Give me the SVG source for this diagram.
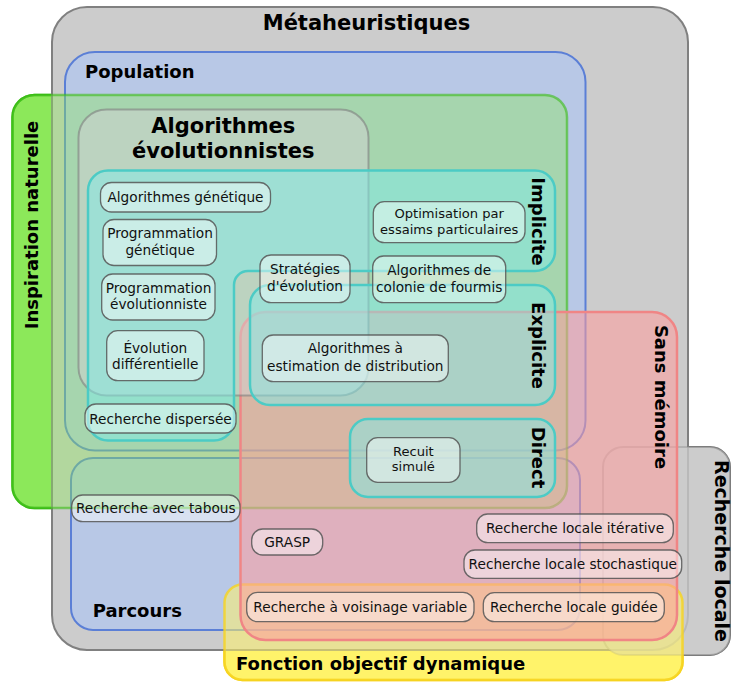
<svg xmlns="http://www.w3.org/2000/svg" width="732" height="682" viewBox="0 0 732 682">
<style>
.t{font-family:"DejaVu Sans","Liberation Sans",sans-serif;font-size:13.7px;fill:#111;text-anchor:middle}
.s{font-size:13.1px}
.b{font-family:"DejaVu Sans","Liberation Sans",sans-serif;font-weight:bold;font-size:18px;fill:#000}
.h{font-family:"DejaVu Sans","Liberation Sans",sans-serif;font-weight:bold;font-size:21px;fill:#000;text-anchor:middle}
.nd{fill:#fff;fill-opacity:0.45;stroke:#555;stroke-opacity:0.85;stroke-width:1.3}
.pop{fill:#a4c4ff;fill-opacity:0.5;stroke:#5b7fd6;stroke-width:2}
.teal{fill:#80ece8;fill-opacity:0.5;stroke:#4ccbc5;stroke-width:2.5}
</style>
<rect width="732" height="682" fill="#ffffff"/>
<g id="tabs">
<rect x="603" y="447" width="127" height="208" rx="20" fill="#cccccc" stroke="#7a7a7a" stroke-width="2"/>
<rect x="224.5" y="584.5" width="458" height="95.5" rx="18" fill="#fff36a" stroke="#f6d31f" stroke-width="2.5"/>
<rect x="12.5" y="95" width="554.5" height="413" rx="22" fill="#8ce85a" stroke="#3bbd15" stroke-width="2.5"/>
</g>
<g id="metaheuristiques">
<rect x="52" y="7" width="636" height="643" rx="35" fill="#cccccc" stroke="#808080" stroke-width="2"/>
</g>
<g id="recherche-locale">
<rect x="603" y="447" width="127" height="208" rx="20" fill="#cccccc" fill-opacity="0.75" stroke="#808080" stroke-opacity="0.35" stroke-width="2"/>
</g>
<g id="population">
<rect class="pop" x="65" y="52" width="520.5" height="398.5" rx="30"/>
</g>
<g id="parcours">
<rect class="pop" x="71" y="458" width="509" height="172" rx="22"/>
</g>
<g id="inspiration-naturelle">
<rect x="12.5" y="95" width="554.5" height="413" rx="22" fill="#8ce85a" fill-opacity="0.4" stroke="#3bbd15" stroke-opacity="0.6" stroke-width="2.5"/>
</g>
<g id="fonction-objectif-dynamique">
<rect x="224.5" y="584.5" width="458" height="95.5" rx="18" fill="#fff36a" fill-opacity="0.55" stroke="#f6d31f" stroke-opacity="0.8" stroke-width="2.5"/>
</g>
<g id="sans-memoire">
<rect x="240.5" y="312" width="436.5" height="328" rx="25" fill="#ff9c9c" fill-opacity="0.55" stroke="#f08585" stroke-width="2.5"/>
</g>
<g id="algorithmes-evolutionnistes">
<rect x="78.5" y="109.5" width="290" height="286" rx="28" fill="#d2d2d2" fill-opacity="0.5" stroke="#7f7f7f" stroke-opacity="0.6" stroke-width="2"/>
</g>
<g id="implicite">
<path class="teal" d="M108,170.5 H535 A20,20 0 0 1 555,190.5 V251 A20,20 0 0 1 535,271 H248 A14,14 0 0 0 234,285 V420.5 A20,20 0 0 1 214,440.5 H108 A20,20 0 0 1 88,420.5 V190.5 A20,20 0 0 1 108,170.5 Z"/>
</g>
<g id="explicite">
<rect class="teal" x="250" y="285" width="305" height="120" rx="20"/>
</g>
<g id="direct">
<rect class="teal" x="350" y="419" width="205" height="78" rx="18"/>
</g>
<g id="node-ag"><rect class="nd" x="100.5" y="182.5" width="170" height="29.5" rx="11"/><text class="t" x="185.5" y="202">Algorithmes génétique</text></g>
<g id="node-pg"><rect class="nd" x="103" y="219.5" width="113.5" height="46" rx="11"/><text class="t" x="160" y="238">Programmation</text><text class="t" x="160" y="255">génétique</text></g>
<g id="node-pe"><rect class="nd" x="101.7" y="274" width="113.3" height="46" rx="11"/><text class="t" x="158.5" y="292.7">Programmation</text><text class="t" x="158.5" y="309.3">évolutionniste</text></g>
<g id="node-ed"><rect class="nd" x="106.7" y="330.7" width="97.3" height="50" rx="11"/><text class="t" x="155.3" y="352.7">Évolution</text><text class="t" x="155.3" y="369.3">différentielle</text></g>
<g id="node-rd"><rect class="nd" x="85" y="404" width="151" height="29" rx="11"/><text class="t" x="160.5" y="424">Recherche dispersée</text></g>
<g id="node-se"><rect class="nd" x="260" y="255" width="90" height="47.7" rx="11"/><text class="t" x="305" y="274">Stratégies</text><text class="t" x="305" y="290.7">d'évolution</text></g>
<g id="node-ope"><rect class="nd" x="373.3" y="201.7" width="151.7" height="41" rx="11"/><text class="t s" x="449.2" y="218">Optimisation par</text><text class="t s" x="449.2" y="233.5">essaims particulaires</text></g>
<g id="node-acf"><rect class="nd" x="372.7" y="256" width="133" height="46.7" rx="11"/><text class="t" x="439.2" y="275">Algorithmes de</text><text class="t" x="439.2" y="291.7">colonie de fourmis</text></g>
<g id="node-aed"><rect class="nd" x="262.3" y="335" width="186" height="46.7" rx="11"/><text class="t" x="355.3" y="353.3">Algorithmes à</text><text class="t" x="355.3" y="370.7">estimation de distribution</text></g>
<g id="node-rs"><rect class="nd" x="366.7" y="437.7" width="93.3" height="44.6" rx="11"/><text class="t s" x="413.3" y="455.5">Recuit</text><text class="t s" x="413.3" y="471">simulé</text></g>
<g id="node-rt"><rect class="nd" x="71.7" y="495" width="168.3" height="26.7" rx="11"/><text class="t" x="155.8" y="513.3">Recherche avec tabous</text></g>
<g id="node-grasp"><rect class="nd" x="251.7" y="529" width="71" height="26" rx="11"/><text class="t" x="287.2" y="547">GRASP</text></g>
<g id="node-rli"><rect class="nd" x="476.7" y="514" width="196.6" height="28.7" rx="11"/><text class="t" x="575" y="533.3">Recherche locale itérative</text></g>
<g id="node-rls"><rect class="nd" x="464" y="550" width="217.7" height="28.3" rx="11"/><text class="t" x="572.8" y="569">Recherche locale stochastique</text></g>
<g id="node-rvv"><rect class="nd" x="246.7" y="592.3" width="227.3" height="29.4" rx="11"/><text class="t" x="360.3" y="612">Recherche à voisinage variable</text></g>
<g id="node-rlg"><rect class="nd" x="483.3" y="592.7" width="181" height="29" rx="11"/><text class="t" x="573.8" y="612">Recherche locale guidée</text></g>
<g id="set-labels">
<text class="h" x="366.5" y="30">Métaheuristiques</text>
<text class="b" x="85" y="77.5">Population</text>
<text class="b" text-anchor="middle" transform="translate(38.3,225) rotate(-90)">Inspiration naturelle</text>
<text class="h" x="223.3" y="133.3">Algorithmes</text>
<text class="h" x="223.3" y="158.3">évolutionnistes</text>
<text class="b" text-anchor="middle" transform="translate(532,221.5) rotate(90)">Implicite</text>
<text class="b" text-anchor="middle" transform="translate(532,345.5) rotate(90)">Explicite</text>
<text class="b" text-anchor="middle" transform="translate(532,457.5) rotate(90)">Direct</text>
<text class="b" text-anchor="middle" transform="translate(655,397) rotate(90)">Sans mémoire</text>
<text class="b" text-anchor="middle" style="font-size:19px" transform="translate(714.5,551) rotate(90)">Recherche locale</text>
<text class="b" x="92.7" y="616.7">Parcours</text>
<text class="b" x="236" y="670">Fonction objectif dynamique</text>
</g>
</svg>
